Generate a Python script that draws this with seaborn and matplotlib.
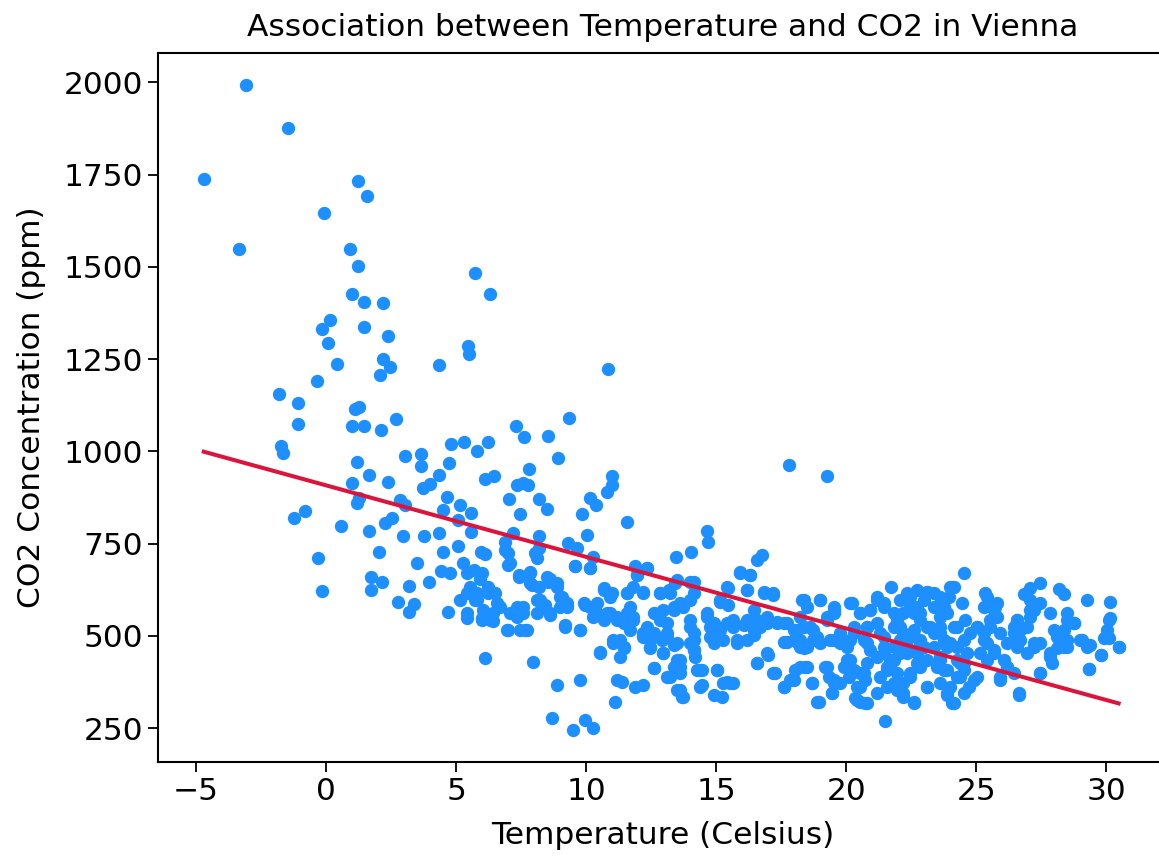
import numpy as np
import pandas as pd
import matplotlib
matplotlib.use("Agg")
import matplotlib.pyplot as plt
import seaborn as sns

# ---- data (temperature in C, CO2 in ppm) ----
temp_cold = [-3.09, -1.45, -4.70, 1.23, 1.59, -0.08, -3.33, 0.93, 1.23, 5.72, 6.31, 1.01, 1.45, 2.18,
             0.15, -0.14, 1.45, 2.38, 0.08, 5.44, 5.51, 2.18, 2.46, 2.08, 0.43, 4.35, -0.36, -1.81,
             -1.08, 1.27, 10.85, 1.10, -1.08, 1.01, 1.45, 2.10, 2.68, -1.73, -1.64, 1.18, 1.67, 1.01,
             2.40, 3.05, 3.64, 3.64, 4.80, 5.30, 5.80, 6.24, 4.72, 4.36, 6.13, 3.74, 4.00, 1.18, 1.27,
             2.85, 3.04, 4.67, 5.15, 4.51, 5.56, 5.08, -0.80, -1.24, 0.58, 2.27, 2.55, 1.67, 2.97,
             3.77, 4.36, 5.56, 5.08, 4.49, 5.94, 6.12, -0.29, 2.03, 3.49, 4.42, 4.77, 5.28, 5.67,
             5.99, 1.72, 2.17, 1.72, -0.14, 3.20, 3.97, 2.75, 3.38, 3.20, 4.70, 5.15, 5.41, 5.73,
             5.99, 5.54, 5.80, 6.24, 6.12]
co2_cold = [1994, 1876, 1739, 1733, 1693, 1646, 1549, 1549, 1503, 1483, 1426, 1427, 1406, 1401,
            1357, 1331, 1336, 1314, 1293, 1286, 1264, 1250, 1228, 1207, 1238, 1233, 1191, 1156,
            1131, 1120, 1224, 1115, 1075, 1069, 1069, 1058, 1089, 1015, 997, 972, 937, 914,
            916, 988, 993, 961, 1020, 1025, 1002, 1025, 968, 937, 926, 901, 912, 860, 873,
            868, 855, 876, 856, 841, 834, 814, 839, 819, 798, 807, 819, 783, 770,
            770, 778, 782, 743, 727, 726, 722, 712, 727, 697, 677, 670, 697, 679,
            670, 660, 647, 623, 622, 636, 647, 593, 587, 566, 566, 598, 548, 598,
            548, 633, 616, 616, 439]

temp_mid = [9.33, 7.31, 7.60, 8.55, 8.91, 7.82, 6.46, 11.01, 11.01, 10.79, 7.33, 7.59, 7.78, 7.04,
            8.17, 8.49, 10.13, 10.38, 7.46, 9.83, 11.59, 10.03, 7.18, 6.88, 8.20, 7.01, 7.08, 6.88,
            8.17, 8.10, 9.32, 9.64, 14.64, 14.70, 10.28, 9.58, 10.15, 13.46, 14.05, 16.56, 16.75,
            7.40, 7.85, 11.88, 12.33, 11.95, 15.92, 16.31, 5.92, 6.24, 6.50, 7.85, 8.17, 8.62, 8.87,
            9.06, 9.26, 10.67, 10.99, 11.56, 11.82, 12.20, 12.85, 13.17, 13.42, 14.00, 15.47, 15.15,
            15.47, 16.18, 16.82, 17.20, 18.30, 18.48, 6.05, 6.43, 6.69, 6.31, 5.99, 7.08, 7.33, 7.59,
            6.95, 7.46, 7.72, 8.10, 8.42, 8.62, 9.00, 9.26, 9.19, 9.77, 7.97, 9.90, 10.15, 10.41,
            10.67, 10.92, 11.18, 11.44, 11.56, 11.82, 11.69, 11.31, 11.44, 11.05, 10.54, 12.20, 12.59,
            12.91, 13.10, 12.85, 12.59, 12.97, 13.36, 13.62, 12.46, 12.97, 13.36, 13.62, 13.36, 13.10,
            13.62, 13.62, 13.74, 12.59, 14.00, 14.13, 14.00, 14.13, 14.26, 14.64, 14.90, 15.15, 14.77,
            14.90, 15.28, 14.44, 15.03, 14.44, 15.41, 15.66, 15.21, 15.66, 16.05, 16.44, 16.69, 16.44,
            16.18, 15.80, 16.95, 17.33, 17.72, 18.10, 18.10, 17.72, 18.36, 16.56, 16.95, 17.27, 17.59,
            17.85, 18.04, 18.42, 11.18, 11.88, 12.20, 11.12, 8.87, 9.77, 8.68, 9.51, 9.96, 10.28,
            8.04, 8.49, 17.78, 19.27]
co2_mid = [1090, 1069, 1038, 1043, 983, 951, 934, 934, 909, 891, 909, 914, 909, 870,
           871, 844, 873, 855, 830, 830, 809, 773, 778, 755, 771, 724, 697, 733,
           737, 710, 753, 737, 783, 755, 715, 688, 683, 713, 727, 706, 720,
           665, 674, 688, 683, 665, 674, 665, 653, 633, 616, 643, 633, 653, 643,
           606, 584, 629, 616, 616, 633, 620, 616, 624, 643, 647, 629, 593,
           584, 624, 620, 611, 598, 579, 570, 561, 579, 543, 543, 561, 579, 561,
           516, 516, 516, 597, 584, 561, 579, 579, 530, 516, 430, 588, 579, 561,
           543, 561, 552, 534, 561, 543, 516, 489, 466, 480, 457, 507, 498,
           489, 507, 543, 561, 570, 579, 588, 466, 453, 475, 435, 416, 389,
           398, 353, 335, 412, 543, 507, 480, 462, 408, 552, 534, 516, 498,
           480, 489, 408, 408, 367, 376, 371, 335, 543, 530, 543, 525, 502,
           489, 480, 552, 538, 534, 516, 484, 484, 466, 426, 453, 398, 362,
           380, 408, 416, 380, 362, 367, 322, 367, 380, 277, 245, 272, 249,
           724, 660, 963, 932]

temp_warm = [24.54, 21.72, 25.35, 27.46, 27.08, 26.82, 28.17, 28.36, 29.26, 30.13, 30.13, 30.03,
             29.90, 30.47, 29.80, 29.32, 29.06, 29.38, 28.49, 28.74, 28.36, 28.10, 28.49, 28.49,
             28.10, 27.85, 27.91, 27.46, 27.08, 27.21, 27.08, 26.56, 26.69, 26.44, 26.18, 26.56,
             26.95, 27.21, 27.46, 26.18, 26.44, 26.63, 25.92, 25.73, 25.79, 25.54, 25.28, 25.41,
             25.67, 25.41, 25.15, 25.03, 24.77, 24.58, 24.26, 24.51, 24.26, 25.03, 24.70, 24.51,
             24.26, 24.06, 23.87, 24.00, 24.45, 24.13, 23.94, 23.74, 23.62, 23.87, 23.62, 23.36,
             23.74, 23.87, 23.62, 23.49, 23.74, 23.36, 23.10, 22.97, 22.72, 22.59, 22.85, 23.10,
             22.46, 22.08, 22.20, 21.95, 21.82, 22.20, 22.08, 22.33, 22.08, 21.82, 21.69, 21.95,
             22.20, 21.95, 22.20, 22.59, 22.46, 22.85, 23.10, 23.10, 22.97, 22.72, 22.85, 22.59,
             21.50, 20.54, 20.73, 20.35, 21.31, 21.44, 21.18, 21.56, 21.31, 21.56, 21.18, 20.92,
             21.18, 21.44, 20.80, 20.67, 20.92, 20.80, 20.54, 20.73, 20.41, 20.22, 20.54, 20.28,
             20.03, 20.15, 19.90, 20.09, 19.77, 19.51, 19.51, 19.00, 19.26, 18.74, 18.74, 19.00,
             19.51, 19.77, 18.49, 18.23, 18.36, 18.23, 19.19, 19.32, 19.51, 19.45, 18.68, 18.87,
             18.23, 24.38, 24.51, 24.90, 26.56, 25.41, 25.79, 24.26]
co2_warm = [671, 633, 617, 643, 629, 614, 626, 614, 597, 593, 548, 516,
            494, 469, 448, 409, 489, 475, 561, 534, 516, 498, 489, 471,
            466, 453, 426, 398, 597, 570, 552, 543, 516, 507, 480, 471,
            453, 471, 480, 416, 398, 340, 380, 579, 552, 525, 507, 480,
            453, 435, 453, 525, 507, 543, 525, 489, 471, 389, 362, 344,
            389, 317, 340, 362, 588, 633, 606, 579, 552, 561, 525, 507,
            489, 471, 444, 416, 408, 616, 620, 597, 579, 561, 543, 525,
            606, 597, 561, 543, 525, 507, 489, 471, 453, 435, 416, 398,
            371, 353, 335, 322, 389, 416, 362, 435, 471, 453, 489, 516,
            270, 322, 319, 331, 507, 471, 444, 416, 389, 362, 344, 570,
            597, 579, 525, 489, 462, 426, 398, 380, 362, 588, 561, 507,
            471, 435, 416, 389, 371, 579, 561, 597, 543, 516, 489, 480,
            489, 507, 471, 489, 525, 552, 416, 389, 371, 344, 371, 320,
            416, 426, 408, 380, 489, 606, 588, 435]

# extra points from the dense band (closer reading)
temp_band = [5.41, 5.41, 5.80, 6.24, 6.57, 5.41, 6.05, 6.43, 7.01, 7.65, 7.01, 7.40, 7.85, 7.91,
             8.55, 8.87, 9.00, 8.23, 7.59, 7.33, 8.10, 8.62, 9.26, 9.19, 9.77, 9.58, 10.15, 9.96,
             10.41, 10.67, 10.92, 10.28, 10.79, 11.18, 11.56, 11.69, 11.56, 11.95, 12.33, 12.20,
             11.82, 12.33, 12.20, 11.05, 11.44, 11.31, 10.54, 12.85, 13.23, 12.85, 13.10, 13.36,
             13.74, 14.00, 13.49, 14.13, 14.13, 12.59, 13.10, 13.49, 12.46, 12.97, 13.49, 13.62,
             13.23, 12.59, 13.49, 13.68, 14.00, 14.13, 14.13, 14.19, 14.38, 15.03, 14.38, 15.28,
             15.54, 14.92, 14.64, 14.77, 14.90, 15.41, 15.41, 15.15, 15.66, 15.80, 16.18, 15.92,
             16.31, 16.18, 16.44, 16.56, 16.95, 17.33, 16.82, 17.20, 16.44, 17.59, 17.98, 17.59,
             17.98, 16.56, 17.01, 17.20, 17.59, 17.98, 11.37,
             18.36, 19.00, 19.51, 19.26, 18.62, 18.87, 19.38, 19.77, 18.23, 18.49, 18.68, 19.26,
             19.51, 19.45, 18.94, 20.15, 20.54, 20.80, 20.28, 20.15, 20.80, 20.03, 20.28, 20.67,
             20.54, 20.41, 20.80, 21.18, 20.92, 21.44, 21.18, 21.82, 21.44, 21.82, 21.44, 21.69,
             21.56, 21.82, 22.20, 22.59, 22.08, 22.33, 22.72, 23.10, 22.46, 22.85, 22.46, 22.85,
             22.33, 22.72, 22.46, 23.10, 23.62, 24.00, 23.36, 23.74, 23.21, 23.62, 23.36, 24.00,
             24.13, 23.62, 23.87, 23.62, 23.87, 24.13, 24.38, 24.51, 24.64, 25.03, 25.28, 25.28,
             25.67, 25.54, 25.92, 25.67, 26.05, 26.18, 25.92, 26.63, 26.44, 26.69, 26.56, 26.95,
             27.21, 27.46, 27.08, 27.46, 27.85, 27.97, 28.23, 28.49, 28.74, 28.36, 27.85, 29.00,
             29.26, 29.80, 29.32, 30.09, 30.47, 30.09]
co2_band = [670, 616, 597, 620, 588, 561, 548, 539, 516, 516, 692, 660, 670, 638,
            647, 633, 606, 597, 579, 552, 561, 557, 588, 525, 516, 688, 683, 584,
            588, 624, 606, 552, 561, 543, 616, 579, 534, 665, 683, 616,
            552, 525, 498, 489, 471, 444, 453, 616, 616, 561, 534, 570,
            579, 597, 652, 647, 616, 507, 498, 480, 471, 453, 435, 416,
            389, 412, 353, 335, 525, 489, 462, 444, 408, 408, 362, 371,
            371, 340, 561, 525, 498, 534, 633, 597, 525, 489, 543, 670,
            665, 624, 516, 543, 534, 534, 616, 616, 570, 534, 516, 484,
            489, 426, 448, 398, 362, 380, 376,
            597, 597, 570, 552, 525, 498, 489, 480, 471, 416, 371, 416,
            380, 344, 322, 588, 561, 525, 525, 489, 480, 435, 408, 398,
            362, 325, 317, 606, 570, 588, 534, 561, 498, 471, 453, 435,
            408, 371, 344, 317, 525, 616, 624, 620, 579, 561, 498, 480,
            453, 426, 398, 362, 606, 633, 579, 570, 525, 507, 471, 480,
            525, 435, 408, 371, 344, 317, 389, 426, 453, 525, 489, 579,
            570, 543, 507, 462, 435, 416, 389, 344, 525, 489, 543, 525,
            480, 398, 570, 588, 561, 516, 489, 543, 534, 471, 444, 489,
            471, 448, 409, 494, 471, 543]

# linear trend (ppm = intercept + slope * temp)
trend_slope = -19.4
trend_intercept = 908.0

temperature = temp_cold + temp_mid + temp_warm + temp_band
co2 = co2_cold + co2_mid + co2_warm + co2_band
df = pd.DataFrame({"Temperature": temperature, "CO2": co2})

t_line = np.array([min(temperature), max(temperature)])
line_df = pd.DataFrame({"Temperature": t_line, "CO2": trend_intercept + trend_slope * t_line})

FS = 22.5
fig = plt.figure(figsize=(11.59, 8.56), dpi=100)
ax = fig.add_axes([0.1363, 0.1098, 0.8715, 0.8283])

sns.scatterplot(data=df, x="Temperature", y="CO2", ax=ax, color="#1E8FFF",
                s=92, linewidth=0, alpha=1.0, zorder=2)
sns.lineplot(data=line_df, x="Temperature", y="CO2", ax=ax, color="#DC143C",
             linewidth=2.9, zorder=3)

ax.set_xlim(-6.46, 32.37)
ax.set_ylim(158, 2080)
ax.set_xticks([-5, 0, 5, 10, 15, 20, 25, 30])
ax.set_yticks([250, 500, 750, 1000, 1250, 1500, 1750, 2000])
ax.tick_params(labelsize=FS, length=7.2, width=1.3, direction="out")
for sp in ax.spines.values():
    sp.set_linewidth(1.5)
ax.spines["right"].set_visible(False)
ax.set_xlabel("Temperature (Celsius)", fontsize=FS, labelpad=11)
ax.set_ylabel("CO2 Concentration (ppm)", fontsize=FS, labelpad=13)
ax.set_title("Association between Temperature and CO2 in Vienna", fontsize=FS, pad=12)

fig.savefig("out.png", dpi=100)
